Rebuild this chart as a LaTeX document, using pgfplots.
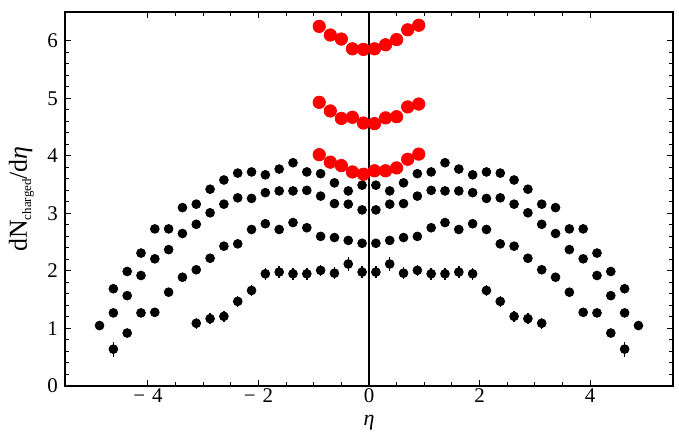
\documentclass[border=0pt]{standalone}
\usepackage{fontspec}
\setmainfont{Liberation Serif}
\usepackage{pgfplots}
\pgfplotsset{compat=1.18}
\usetikzlibrary{calc}
\definecolor{mred}{RGB}{255,0,0}
\begin{document}
\begin{tikzpicture}
\begin{axis}[
 scale only axis, width=304bp, height=187bp,
 xmin=-5.5, xmax=5.5, ymin=0, ymax=6.5,
 xtick={-4,-2,0,2,4}, xticklabels={−\,\,4,−\,\,2,0,2,4},
 minor x tick num=3,
 ytick={0,1,2,3,4,5,6}, minor y tick num=4,
 /pgf/number format/assume math mode=true,
 tick align=inside, major tick length=3.2bp, minor tick length=1.8bp,
 tick style={black, line width=0.5pt},
 axis line style={line width=0.6pt},
 ticklabel style={font=\fontsize{10.5}{12}\selectfont},
 xticklabel style={inner sep=1pt},
 ylabel={dN\raisebox{-0.35ex}{\fontsize{6.5}{7}\selectfont charged}/d\textit{η}},
 ylabel style={font=\fontsize{13}{15}\selectfont},
 xlabel={\textit{η}},
 xlabel style={font=\fontsize{11}{12}\selectfont, inner sep=0.3pt,
   at={(axis description cs:0.5,0)}, anchor=base, yshift=-20bp},
]
\addplot[black, line width=0.6pt] coordinates {(0,0) (0,6.5)};
% top black series
\addplot[only marks, mark=*, mark size=2.2bp, black] table {
x y
-4.875 1.05
-4.625 1.69
-4.375 1.99
-4.125 2.31
-3.875 2.73
-3.625 2.73
-3.375 3.10
-3.125 3.16
-2.875 3.42
-2.625 3.58
-2.375 3.70
-2.125 3.72
-1.875 3.67
-1.625 3.77
-1.375 3.88
-1.125 3.72
-0.875 3.69
-0.625 3.53
-0.375 3.39
-0.125 3.49
0.125 3.49
0.375 3.39
0.625 3.53
0.875 3.69
1.125 3.72
1.375 3.88
1.625 3.77
1.875 3.67
2.125 3.72
2.375 3.70
2.625 3.58
2.875 3.42
3.125 3.16
3.375 3.10
3.625 2.73
3.875 2.73
4.125 2.31
4.375 1.99
4.625 1.69
4.875 1.05
};
% second black series
\addplot[only marks, mark=*, mark size=2.2bp, black] table {
x y
-4.625 1.27
-4.375 1.57
-4.125 1.92
-3.875 2.21
-3.625 2.37
-3.375 2.65
-3.125 2.81
-2.875 3.01
-2.625 3.16
-2.375 3.27
-2.125 3.26
-1.875 3.36
-1.625 3.39
-1.375 3.39
-1.125 3.40
-0.875 3.30
-0.625 3.17
-0.375 3.16
-0.125 3.06
0.125 3.06
0.375 3.16
0.625 3.17
0.875 3.30
1.125 3.40
1.375 3.39
1.625 3.39
1.875 3.36
2.125 3.26
2.375 3.27
2.625 3.16
2.875 3.01
3.125 2.81
3.375 2.65
3.625 2.37
3.875 2.21
4.125 1.92
4.375 1.57
4.625 1.27
};
% third black series
\addplot[only marks, mark=*, mark size=2.2bp, black,
 error bars/.cd, y dir=both, y explicit, error mark=none,
 error bar style={line width=0.7pt}] table[y error=e] {
x y e
-4.625 0.64 0.13
-4.375 0.92 0.05
-4.125 1.27 0.05
-3.875 1.28 0.05
-3.625 1.63 0.05
-3.375 1.89 0.05
-3.125 2.02 0.05
-2.875 2.22 0.05
-2.625 2.43 0.05
-2.375 2.47 0.05
-2.125 2.72 0.05
-1.875 2.82 0.05
-1.625 2.72 0.05
-1.375 2.84 0.05
-1.125 2.75 0.05
-0.875 2.60 0.05
-0.625 2.58 0.05
-0.375 2.53 0.05
-0.125 2.48 0.05
0.125 2.48 0.05
0.375 2.53 0.05
0.625 2.58 0.05
0.875 2.60 0.05
1.125 2.75 0.05
1.375 2.84 0.05
1.625 2.72 0.05
1.875 2.82 0.05
2.125 2.72 0.05
2.375 2.47 0.05
2.625 2.43 0.05
2.875 2.22 0.05
3.125 2.02 0.05
3.375 1.89 0.05
3.625 1.63 0.05
3.875 1.28 0.05
4.125 1.27 0.05
4.375 0.92 0.05
4.625 0.64 0.13
};
% fourth black series
\addplot[only marks, mark=*, mark size=2.2bp, black,
 error bars/.cd, y dir=both, y explicit, error mark=none,
 error bar style={line width=0.7pt}] table[y error=e] {
x y e
-3.125 1.09 0.10
-2.875 1.17 0.10
-2.625 1.21 0.10
-2.375 1.47 0.10
-2.125 1.66 0.10
-1.875 1.95 0.10
-1.625 1.98 0.10
-1.375 1.95 0.10
-1.125 1.95 0.10
-0.875 2.01 0.10
-0.625 1.96 0.10
-0.375 2.12 0.12
-0.125 1.98 0.10
0.125 1.98 0.10
0.375 2.12 0.12
0.625 1.96 0.10
0.875 2.01 0.10
1.125 1.95 0.10
1.375 1.95 0.10
1.625 1.98 0.10
1.875 1.95 0.10
2.125 1.66 0.10
2.375 1.47 0.10
2.625 1.21 0.10
2.875 1.17 0.10
3.125 1.09 0.10
};
% red series
\addplot[only marks, mark=*, mark size=3.1bp, mred, mark options={draw=mred, fill=mred}] table {
x y
-0.9 6.25
-0.7 6.10
-0.5 6.03
-0.3 5.86
-0.1 5.85
0.1 5.86
0.3 5.93
0.5 6.02
0.7 6.19
0.9 6.27
};
\addplot[only marks, mark=*, mark size=3.1bp, mred, mark options={draw=mred, fill=mred}] table {
x y
-0.9 4.93
-0.7 4.78
-0.5 4.65
-0.3 4.67
-0.1 4.57
0.1 4.56
0.3 4.66
0.5 4.68
0.7 4.85
0.9 4.90
};
\addplot[only marks, mark=*, mark size=3.1bp, mred, mark options={draw=mred, fill=mred}] table {
x y
-0.9 4.02
-0.7 3.89
-0.5 3.83
-0.3 3.72
-0.1 3.68
0.1 3.74
0.3 3.74
0.5 3.79
0.7 3.94
0.9 4.03
};
\end{axis}
\pgfresetboundingbox
\path ($(current axis.south west)+(-32.5bp,-23bp)$) rectangle ($(current axis.north east)+(3bp,6bp)$);
\end{tikzpicture}
\end{document}
